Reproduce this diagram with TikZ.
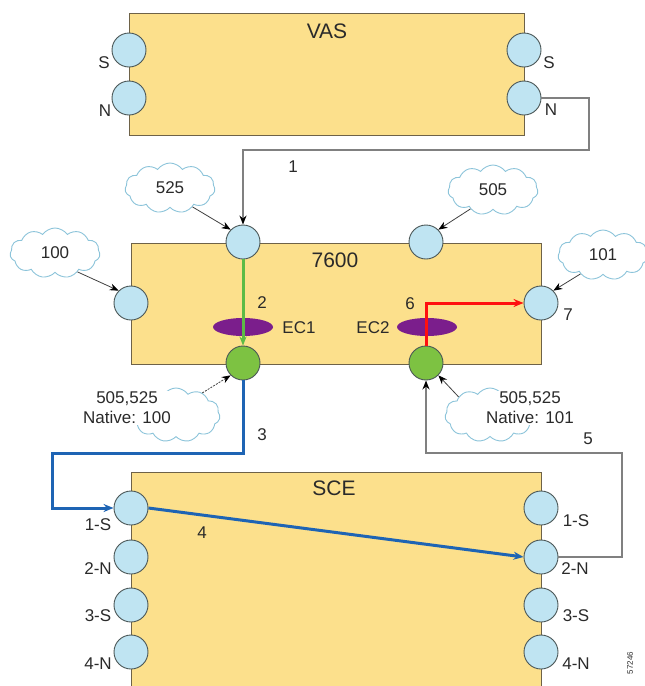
\documentclass[tikz,border=0pt]{standalone}
\usepackage{fontspec}
\setmainfont{Liberation Sans}
\usetikzlibrary{shapes.symbols,shapes.geometric,arrows.meta}
\definecolor{boxfill}{HTML}{FCE08C}
\definecolor{boxline}{HTML}{6E6248}
\definecolor{portfill}{HTML}{BFE4F2}
\definecolor{portline}{HTML}{4A5656}
\definecolor{greenfill}{HTML}{7DC242}
\definecolor{purp}{HTML}{7B1E8C}
\definecolor{cloudline}{HTML}{8CC4DA}
\definecolor{blueline}{HTML}{1E64B4}
\definecolor{greenline}{HTML}{5CBB46}
\definecolor{grayline}{HTML}{808080}
\definecolor{redline}{HTML}{FF1010}
\definecolor{txt}{HTML}{2A2A2A}
\begin{document}
\begin{tikzpicture}[x=1pt,y=-1pt,
  every node/.style={font=\fontsize{17}{19}\selectfont, text=txt},
  devbox/.style={draw=boxline, fill=boxfill, line width=0.9pt, anchor=north west, inner sep=0pt},
  title/.style={font=\fontsize{21}{23}\selectfont},
  port/.style={circle, draw=portline, fill=portfill, line width=0.9pt, minimum size=34pt, inner sep=0pt},
  gport/.style={circle, draw=portline, fill=greenfill, line width=0.9pt, minimum size=34pt, inner sep=0pt},
  ecell/.style={ellipse, fill=purp, minimum width=60pt, minimum height=18pt, inner sep=0pt},
  cld/.style={cloud, cloud puffs=11, cloud puff arc=110, draw=cloudline, fill=white, line width=0.9pt, minimum width=90pt, minimum height=50pt, aspect=1.8, inner sep=0pt},
  ctext/.style={align=center, fill=white, inner sep=1pt, font=\fontsize{17}{20}\selectfont},
  grayarr/.style={draw=grayline, line width=1.3pt, -{Stealth[length=9pt,width=7pt,color=black]}},
  carr/.style={draw=black!75, line width=0.8pt, -{Stealth[length=9pt,width=7pt,color=black]}},
  carrd/.style={carr, dash pattern=on 2pt off 1.2pt},
  thick3/.style={line width=3pt}
]
\useasboundingbox (0,0) rectangle (645,686);

% boxes
\node[devbox, minimum width=395pt, minimum height=122pt] (vas) at (129,13) {};
\node[devbox, minimum width=410pt, minimum height=121pt] (r7600) at (131,243) {};
\node[devbox, minimum width=410pt, minimum height=240pt] (sce) at (131,472) {};

\node[title] (tvas) at (327,31) {VAS};
\node[title] (t7600) at (335,260) {7600};
\node[title] (tsce) at (334,488) {SCE};

% EtherChannel ellipses
\node[ecell] (ec1) at (243,327) {};
\node[ecell] (ec2) at (427,327) {};

% VAS ports
\node[port] (vLS) at (129,50) {};
\node[port] (vLN) at (129,98) {};
\node[port] (vRS) at (524,50) {};
\node[port] (vRN) at (524,98) {};
\node (lvLS) at (104,63) {S};
\node (lvLN) at (105,111) {N};
\node (lvRS) at (549,63) {S};
\node (lvRN) at (551,110) {N};

% 7600 ports
\node[port] (p525) at (243,242) {};
\node[port] (p505) at (426,242) {};
\node[port] (p100) at (131,303) {};
\node[port] (p7) at (541,303) {};
\node[gport] (g1) at (243,363) {};
\node[gport] (g2) at (426,363) {};

% SCE ports
\node[port] (sL1) at (131,508) {};
\node[port] (sL2) at (131,557) {};
\node[port] (sL3) at (131,605) {};
\node[port] (sL4) at (131,652) {};
\node[port] (sR1) at (541,508) {};
\node[port] (sR2) at (541,557) {};
\node[port] (sR3) at (541,605) {};
\node[port] (sR4) at (541,652) {};
\node (lsL1) at (98,525) {1-S};
\node (lsL2) at (98,569) {2-N};
\node (lsL3) at (98,616) {3-S};
\node (lsL4) at (98,664) {4-N};
\node (lsR1) at (576,521) {1-S};
\node (lsR2) at (575,569) {2-N};
\node (lsR3) at (576,616) {3-S};
\node (lsR4) at (576,664) {4-N};

% connectors
\draw[grayarr] (vRN.east) -| (589,150) -| (p525.north);
\draw[thick3, draw=greenline, -{Stealth[length=9pt,width=7pt]}] (p525.south) -- (g1.north);
\draw[thick3, draw=redline, -{Stealth[length=10pt,width=8pt]}] (g2.north) |- (p7.west);
\draw[thick3, draw=blueline, -{Stealth[length=10pt,width=8pt]}] (g1.south) |- (52,453) |- (sL1.west);
\draw[thick3, draw=blueline, -{Stealth[length=10pt,width=8pt]}] (sL1.east) -- (sR2.west);
\draw[grayarr] (sR2.east) -| (622,453) -| (g2.south);

% step labels
\node (n1) at (293,167) {1};
\node (n2) at (262,303) {2};
\node (nec1) at (299,328) {EC1};
\node (n3) at (262,435) {3};
\node (n4) at (202,533) {4};
\node (n5) at (588,439) {5};
\node (n6) at (410,304) {6};
\node (nec2) at (373,328) {EC2};
\node (n7) at (568,315) {7};

% clouds
\node[cld] (c525) at (170,188) {525};
\node[cld] (c100) at (55,253) {100};
\node[cld] (c505) at (493,190) {505};
\node[cld] (c101) at (603,255) {101};
\node[cld, minimum width=88pt, minimum height=54pt] (cbl) at (176,415) {};
\node[cld, minimum width=90pt, minimum height=54pt] (cbr) at (490,415) {};
\node[ctext] (tbl) at (127,408) {505,525\\Native: 100};
\node[ctext] (tbr) at (530,408) {505,525\\Native: 101};

\draw[carr] (c525.-40) -- (p525.135);
\draw[carr] (c100.-40) -- (p100.135);
\draw[carr] (c505.220) -- (p505.45);
\draw[carr] (c101.220) -- (p7.45);
\draw[carrd] (cbl.40) -- (g1.225);
\draw[carr] (cbr.150) -- (g2.-45);

\node[rotate=90, font=\fontsize{8}{9}\selectfont] (fig) at (630,663) {57246};
\end{tikzpicture}
\end{document}
